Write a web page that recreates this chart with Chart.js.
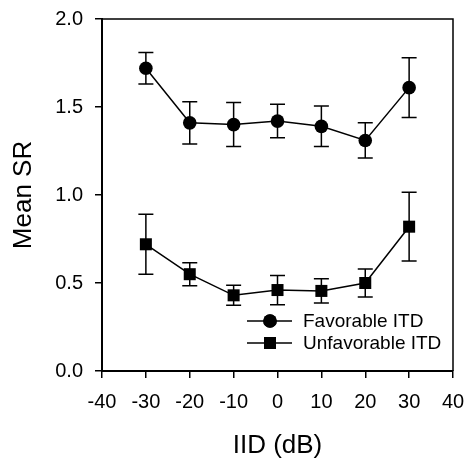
<!DOCTYPE html>
<html>
<head>
<meta charset="utf-8">
<script src="https://cdn.jsdelivr.net/npm/chart.js@4"></script>
<style>
  html, body { margin: 0; padding: 0; background: #fff; }
  #wrap { width: 466px; height: 461px; position: relative; }
</style>
</head>
<body>
<div id="wrap"><canvas id="srChart" width="466" height="461"></canvas></div>
<script>
// IID values (dB)
const iid = [-30, -20, -10, 0, 10, 20, 30];

// Mean SR and error bars
const favorable = [1.72, 1.41, 1.40, 1.42, 1.39, 1.31, 1.61];
const favorableErr = [0.09, 0.12, 0.125, 0.095, 0.115, 0.10, 0.17];
const unfavorable = [0.72, 0.55, 0.43, 0.46, 0.455, 0.50, 0.82];
const unfavorableErr = [0.17, 0.065, 0.057, 0.083, 0.069, 0.08, 0.195];

const legendLabels = ['Favorable ITD', 'Unfavorable ITD'];
const xTitle = 'IID (dB)';
const yTitle = 'Mean SR';

const FONT = '"Liberation Sans", Arial, Helvetica, sans-serif';

// error bars drawn through the scales
const errorBars = {
  id: 'errorBars',
  afterDatasetsDraw(chart) {
    const { ctx, scales: { x, y } } = chart;
    const errs = [favorableErr, unfavorableErr];
    ctx.save();
    ctx.strokeStyle = '#000';
    ctx.lineWidth = 1.5;
    chart.data.datasets.forEach((ds, i) => {
      ds.data.forEach((p, j) => {
        const px = x.getPixelForValue(p.x);
        const top = y.getPixelForValue(p.y + errs[i][j]);
        const bot = y.getPixelForValue(p.y - errs[i][j]);
        ctx.beginPath();
        ctx.moveTo(px, top); ctx.lineTo(px, bot);
        ctx.moveTo(px - 7.5, top); ctx.lineTo(px + 7.5, top);
        ctx.moveTo(px - 7.5, bot); ctx.lineTo(px + 7.5, bot);
        ctx.stroke();
      });
    });
    ctx.restore();
  }
};

// frame on top/right plus legend inside the plot
const frameAndLegend = {
  id: 'frameAndLegend',
  afterDraw(chart) {
    const { ctx, chartArea: a } = chart;
    ctx.save();
    ctx.strokeStyle = '#000';
    ctx.lineWidth = 1.5;
    ctx.beginPath();
    ctx.moveTo(a.left, a.top); ctx.lineTo(a.right, a.top); ctx.lineTo(a.right, a.bottom);
    ctx.stroke();

    const rows = [321, 343];
    chart.data.datasets.forEach((ds, i) => {
      const y = rows[i];
      ctx.beginPath();
      ctx.moveTo(247, y); ctx.lineTo(292, y);
      ctx.stroke();
      Chart.helpers.drawPoint(ctx, { pointStyle: ds.pointStyle, radius: ds.pointRadius, borderWidth: 0 }, 270, y);
      ctx.fillStyle = '#000';
      ctx.fill();
      ctx.font = '19px ' + FONT;
      ctx.textBaseline = 'middle';
      ctx.textAlign = 'left';
      ctx.fillText(legendLabels[i], 303, y + 1);
    });
    ctx.restore();
  }
};

new Chart(document.getElementById('srChart'), {
  type: 'line',
  data: {
    datasets: [
      {
        label: legendLabels[0],
        data: iid.map((v, i) => ({ x: v, y: favorable[i] })),
        borderColor: '#000',
        backgroundColor: '#000',
        borderWidth: 1.5,
        pointStyle: 'circle',
        pointRadius: 6.8,
        pointBorderWidth: 0
      },
      {
        label: legendLabels[1],
        data: iid.map((v, i) => ({ x: v, y: unfavorable[i] })),
        borderColor: '#000',
        backgroundColor: '#000',
        borderWidth: 1.5,
        pointStyle: 'rect',
        pointRadius: 8.5,
        pointBorderWidth: 0
      }
    ]
  },
  options: {
    responsive: false,
    animation: false,
    layout: { padding: { top: 19, right: 13, left: 8, bottom: 0 } },
    plugins: { legend: { display: false }, tooltip: { enabled: false } },
    scales: {
      x: {
        type: 'linear',
        min: -40, max: 40,
        afterFit: s => { s.height = 90; s.paddingLeft = 0; s.paddingRight = 0; },
        ticks: { stepSize: 10, color: '#000', font: { family: FONT, size: 20 }, padding: 12 },
        grid: { drawOnChartArea: false, drawTicks: true, tickLength: 7, color: '#000', lineWidth: 1.5 },
        border: { color: '#000', width: 2 },
        title: { display: true, text: xTitle, color: '#000', font: { family: FONT, size: 26 }, padding: { top: 0, bottom: 0 } }
      },
      y: {
        min: 0, max: 2.0,
        afterFit: s => { s.width = 94; s.paddingTop = 0; s.paddingBottom = 0; },
        ticks: { stepSize: 0.5, color: '#000', font: { family: FONT, size: 20 }, padding: 12,
                 callback: v => v.toFixed(1) },
        grid: { drawOnChartArea: false, drawTicks: true, tickLength: 7, color: '#000', lineWidth: 1.5 },
        border: { color: '#000', width: 2 },
        title: { display: true, text: yTitle, color: '#000', font: { family: FONT, size: 26 }, padding: { top: 0, bottom: 0 } }
      }
    }
  },
  plugins: [errorBars, frameAndLegend]
});
</script>
</body>
</html>
